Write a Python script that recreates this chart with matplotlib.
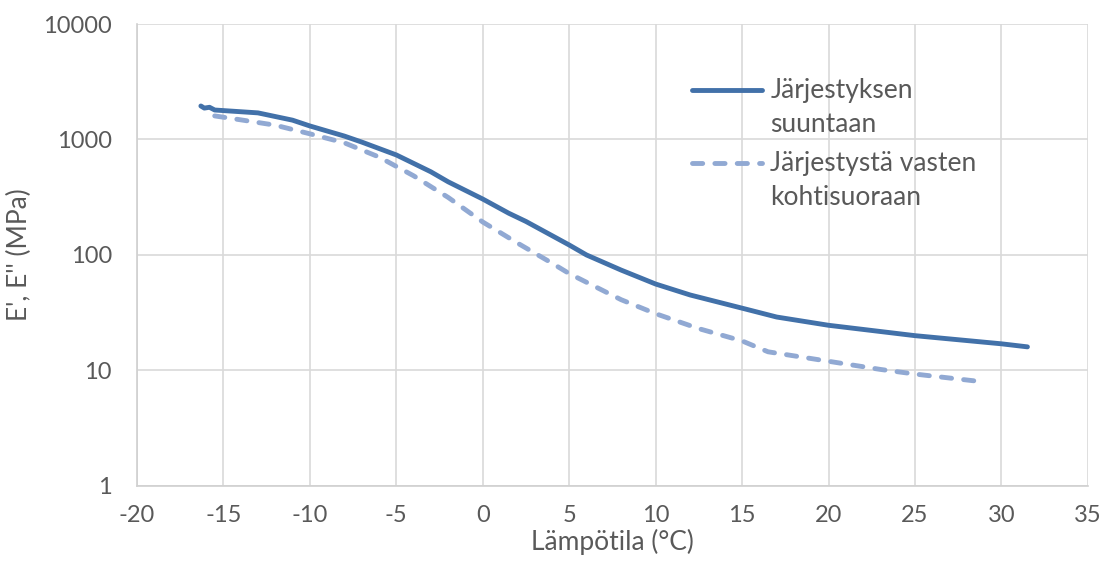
import matplotlib.pyplot as plt
from matplotlib.ticker import FixedLocator, FixedFormatter

# Storage modulus vs temperature, two orientations
t_par = [-16.3, -16.1, -15.8, -15.5, -13, -11, -10, -8, -7, -5, -3, -2, 0, 1.5, 2.5,
         5, 6, 8, 10, 12, 15, 17, 20, 25, 30, 31.5]
e_par = [1950, 1870, 1900, 1800, 1700, 1470, 1310, 1070, 950, 735, 525, 430, 305, 230, 195,
         122, 100, 74, 56, 45, 34.6, 29, 24.6, 20, 17, 16]

t_perp = [-15.5, -14, -12, -10, -8, -6, -4, -2, 0, 2, 4, 5, 8, 10, 12.5,
          15, 16.5, 20, 23, 25, 28.5]
e_perp = [1600, 1480, 1330, 1120, 935, 705, 485, 315, 193, 127, 85, 69, 41, 31, 23,
          18, 14.5, 12, 10.2, 9.3, 8.1]

labels = ["Järjestyksen\nsuuntaan", "Järjestystä vasten\nkohtisuoraan"]
xticks = list(range(-20, 40, 5))
yticks = [1, 10, 100, 1000, 10000]

plt.rcParams['font.family'] = ['Lato', 'DejaVu Sans']
plt.rcParams['axes.unicode_minus'] = False
txt = '#595959'
c_par = '#4271A9'
c_perp = '#91A9D3'
dash = (0, (2.1, 2.5))

fig = plt.figure(figsize=(11.13, 5.65), dpi=100)
ax = fig.add_axes([0.123, 0.14, 0.8545, 0.8175])

ax.plot(t_par, e_par, color=c_par, lw=3.5, solid_capstyle='round', solid_joinstyle='round')
ax.plot(t_perp, e_perp, color=c_perp, lw=3.5, ls=dash, dash_capstyle='round')

ax.set_yscale('log')
ax.set_xlim(-20, 35)
ax.set_ylim(1, 10000)
ax.set_xticks(xticks)
ax.yaxis.set_major_locator(FixedLocator(yticks))
ax.yaxis.set_major_formatter(FixedFormatter([str(v) for v in yticks]))
ax.yaxis.set_minor_locator(FixedLocator([]))

ax.grid(True, color='#d9d9d9', lw=1.2)
ax.set_axisbelow(True)
for s in ['top', 'right']:
    ax.spines[s].set_visible(False)
for s in ['left', 'bottom']:
    ax.spines[s].set_color('#d0d0d0')
    ax.spines[s].set_linewidth(1.2)
ax.tick_params(length=0, labelsize=17, colors=txt)
ax.tick_params(axis='x', pad=14)
ax.tick_params(axis='y', pad=18)

ax.set_xlabel("Lämpötila (°C)", fontsize=19, color=txt, labelpad=2)
ax.set_ylabel("E', E'' (MPa)", fontsize=19, color=txt, labelpad=8)

# legend: handle sits beside the first line of each label
for (y0, lab, col, ls) in [(0.857, labels[0], c_par, '-'), (0.699, labels[1], c_perp, dash)]:
    ax.plot([0.584, 0.657], [y0, y0], transform=ax.transAxes, color=col, lw=3.5,
            ls=ls, solid_capstyle='round', dash_capstyle='round', clip_on=False)
    ax.text(0.666, y0 + 0.026, lab, transform=ax.transAxes, fontsize=19, color=txt,
            va='top', ha='left', linespacing=1.45)

fig.savefig('out.png', dpi=100)
